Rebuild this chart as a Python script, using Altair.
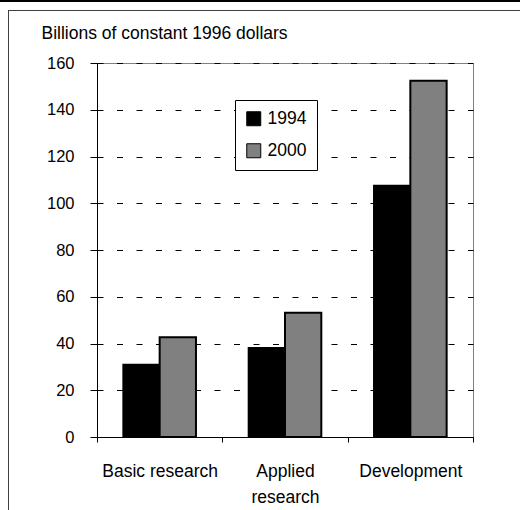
import altair as alt
import pandas as pd

# R&D spending by character of work, billions of constant 1996 dollars
categories = ["Basic research", "Applied research", "Development"]
years = ["1994", "2000"]
spend_1994 = [30.9, 38.1, 107.5]
spend_2000 = [42.7, 53.2, 152.4]

rows = []
for cat, v94, v00 in zip(categories, spend_1994, spend_2000):
    rows.append({"category": cat, "year": "1994", "value": v94})
    rows.append({"category": cat, "year": "2000", "value": v00})
df = pd.DataFrame(rows)

FONT = "Liberation Sans, Arial, sans-serif"

bars = alt.Chart(df).mark_bar(stroke="black", strokeWidth=2).encode(
    x=alt.X(
        "category:N",
        sort=categories,
        scale=alt.Scale(paddingInner=0, paddingOuter=0),
        axis=alt.Axis(
            title=None,
            labelAngle=0,
            labelFontSize=17.5,
            labelBaseline="top",
            labelPadding=20,
            labelLineHeight=26,
            labelExpr="datum.label == 'Applied research' ? ['Applied', 'research'] : datum.label",
            tickSize=5,
            tickBand="extent",
            grid=False,
        ),
    ),
    xOffset=alt.XOffset(
        "year:N",
        sort=years,
        scale=alt.Scale(paddingInner=0, paddingOuter=0.726),
    ),
    y=alt.Y(
        "value:Q",
        scale=alt.Scale(domain=[0, 160], nice=False),
        axis=alt.Axis(
            title="Billions of constant 1996 dollars",
            titleAngle=0,
            titleAlign="left",
            titleBaseline="alphabetic",
            titleX=-56,
            titleY=-25,
            titleFontSize=17.5,
            titleFontWeight="normal",
            values=[0, 20, 40, 60, 80, 100, 120, 140, 160],
            labelFontSize=16.5,
            labelPadding=16,
            tickSize=7,
            grid=True,
            gridColor="black",
            gridDash=[6, 13.5],
            gridWidth=1,
        ),
    ),
    fill=alt.Fill(
        "year:N",
        scale=alt.Scale(domain=years, range=["black", "#808080"]),
        legend=alt.Legend(
            title=None,
            orient="none",
            legendX=138,
            legendY=37,
            strokeColor="black",
            fillColor="white",
            padding=10,
            rowPadding=13,
            labelFontSize=17.5,
            labelOffset=5,
            symbolType="square",
            symbolSize=196,
            symbolStrokeColor="black",
            symbolStrokeWidth=1,
        ),
    ),
)

one = pd.DataFrame({"k": [0]})

# page frame: heavy rule along the top edge, thin box lines at top-left
top_band = alt.Chart(one).mark_rule(color="black", strokeWidth=2).encode(
    x=alt.value(-97), x2=alt.value(423), y=alt.value(-62)
)
frame_top = alt.Chart(one).mark_rule(color="#404040", strokeWidth=1).encode(
    x=alt.value(-89), x2=alt.value(423), y=alt.value(-52.5)
)
frame_left = alt.Chart(one).mark_rule(color="#404040", strokeWidth=1).encode(
    x=alt.value(-88.5), y=alt.value(-52.5), y2=alt.value(447)
)

chart = (
    alt.layer(bars, top_band, frame_top, frame_left)
    .properties(
        width=376,
        height=374,
        autosize=alt.AutoSizeParams(type="none"),
        padding={"left": 97, "top": 63, "right": 47, "bottom": 73},
        background="white",
    )
    .configure_view(stroke="#808080", strokeWidth=1)
    .configure_axis(
        labelFont=FONT,
        titleFont=FONT,
        labelColor="black",
        titleColor="black",
        domainColor="black",
        tickColor="black",
    )
    .configure_legend(labelFont=FONT, labelColor="black")
)

chart.save("out.html", embed_options={"renderer": "svg", "actions": False})
